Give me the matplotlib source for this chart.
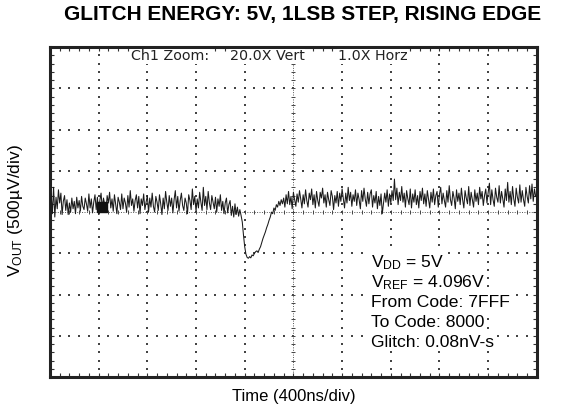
import numpy as np
import matplotlib.pyplot as plt

# scope trace, one sample every 10 ns, values in uV
sample_ns = 10
before_uv = [
    20, 220, -20, 300, -60, 180, 40, 270, 110, 230, -30, 130,
    200, 20, 150, -30, 110, 0, 170, 40, 130, -20, 180, 50,
    140, 10, 190, 70, 30, 170, 100, 10, 220, 50, 160, -10,
    120, 210, 30, 180, -30, 140, 230, 40, 170, 90, 0, 200,
    110, 240, 50, 160, 10, 210, 90, -20, 180, 120, 30, 220,
    40, 170, 110, 0, 200, 60, 260, 80, 160, 10, 140, 210,
    50, 190, -20, 160, 80, 220, 30, 120, 200, 0, 170, 60,
    230, 70, 0, 190, 120, 20, 210, 100, -30, 170, 40, 250,
    120, 20, 200, 70, 170, -10, 150, 260, 50, 190, 10, 140,
    230, 80, 20, 170, 110, -20, 210, 140, 30, 280, 90, 190,
    10, 160, 50, 240, 120, 20, 300, 80, 190, 30, 250, 110,
    30, 200, 120, 40, 180, 0, 160, 70, 210, 20, 130, -20,
    110, 170, -10, 90, 140, -40, 70, -60, 100, -30, 60, -50,
]
glitch_uv = [
    30, -40, -120, -280, -420, -510, -550, -560, -540, -555, -520, -530,
    -500, -480, -470, -490, -450, -420, -370, -320, -280, -240, -190, -150,
    -100, -60, 0, -20, 50, 20, 90, 60, 130, 80, 150, 100,
]
after_uv = [
    170, 60, 210, 100, 250, 90, 190, 40, 240, 150, 70, 220,
    120, 260, 160, 50, 210, 100, 270, 140, 60, 230, 150, 280,
    90, 210, 50, 250, 140, 70, 240, 170, 290, 110, 210, 60,
    240, 150, 80, 260, 190, 30, 200, 110, 250, 70, 230, 130,
    280, 160, 50, 230, 110, 300, 140, 240, 70, 210, 130, 270,
    80, 230, 150, 40, 260, 130, 290, 160, 70, 240, 100, 220,
    270, 60, 200, 110, 250, 40, 190, 80, 220, -20, 100, 230,
    120, 270, 70, 220, 110, 260, 140, 400, 150, 290, 90, 240,
    140, 310, 120, 230, 60, 260, 160, 90, 280, 50, 220, 120,
    270, 90, 200, 50, 250, 140, 290, 100, 220, 70, 260, 150,
    50, 240, 120, 280, 90, 200, 250, 60, 220, 300, 100, 230,
    140, 60, 260, 120, 320, 150, 80, 250, 170, 40, 270, 130,
    230, 90, 290, 150, 50, 260, 170, 100, 310, 80, 240, 150,
    60, 270, 130, 230, 90, 300, 160, 250, 80, 200, 280, 110,
    240, 350, 90, 270, 150, 70, 290, 180, 120, 320, 110, 250,
    160, 60, 280, 140, 360, 120, 250, 90, 310, 160, 70, 290,
    180, 110, 330, 120, 260, 150, 70, 300, 190, 110, 320, 160,
    340, 130, 280, 190,
]
trace_uv = before_uv + glitch_uv + after_uv
time_ns = np.arange(len(trace_uv)) * sample_ns

ns_per_div = 400
uv_per_div = 500
ground_marker_ns = 430
ground_marker_uv = 60

notes = ["V$_{\\rm DD}$ = 5V", "V$_{\\rm REF}$ = 4.096V", "From Code: 7FFF",
         "To Code: 8000", "Glitch: 0.08nV-s"]

plt.rcParams['font.family'] = ['Liberation Sans', 'DejaVu Sans']
plt.rcParams['mathtext.fontset'] = 'custom'
plt.rcParams['mathtext.rm'] = 'Liberation Sans'
plt.rcParams['mathtext.default'] = 'rm'

fig = plt.figure(figsize=(5.61, 4.13), dpi=100)
ax = fig.add_axes([0.089, 0.087, 0.868, 0.799])
xmax = 10 * ns_per_div
ymax = 4 * uv_per_div
ax.set_xlim(0, xmax)
ax.set_ylim(-ymax, ymax)

# dotted graticule
gx = np.arange(0, xmax + 1, ns_per_div / 5)
gy = np.arange(-ymax, ymax + 1, uv_per_div / 5)
dot = dict(s=1.5, marker='s', color='#444', linewidths=0, zorder=1)
for k in range(1, 10):
    if k != 5:
        ax.scatter(np.full(len(gy), k * ns_per_div), gy, **dot)
for k in range(-3, 4):
    if k != 0:
        ax.scatter(gx, np.full(len(gx), k * uv_per_div), **dot)

# centre axes
ax.axvline(xmax / 2, color='#555', lw=0.7, ls=(0, (1, 1.5)), zorder=1)
ax.axhline(0, color='#555', lw=0.7, ls=(0, (1, 1.5)), zorder=1)
ax.scatter(np.full(len(gy), xmax / 2), gy, marker='_', s=10, color='#444', linewidths=0.7, zorder=1)
ax.scatter(gx, np.zeros(len(gx)), marker='|', s=10, color='#444', linewidths=0.7, zorder=1)

ax.plot(time_ns, trace_uv, color='#1a1a1a', lw=0.75, zorder=3)
ax.plot(ground_marker_ns, ground_marker_uv, marker='s', ms=7.5, color='#111', zorder=4)

ax.set_xticks(np.arange(0, xmax + 1, ns_per_div))
ax.set_yticks(np.arange(-ymax, ymax + 1, uv_per_div))
ax.set_xticks(gx, minor=True)
ax.set_yticks(gy, minor=True)
ax.tick_params(which='both', direction='in', top=True, right=True,
               labelbottom=False, labelleft=False, length=3, width=0.8, color='#333')
for sp in ax.spines.values():
    sp.set_linewidth(2.2)
    sp.set_color('#222')

box = dict(facecolor='white', edgecolor='none', pad=0.5)
scope = dict(family='DejaVu Sans', fontsize=10.3, va='center', color='#222', bbox=box, zorder=5)
ax.text(665, 1887, "Ch1 Zoom:", **scope)
ax.text(1478, 1887, "20.0X Vert", **scope)
ax.text(2365, 1887, "1.0X Horz", **scope)

for i, s in enumerate(notes):
    ax.text(2636, -674 - i * 240, s, fontsize=12.6, va='baseline',
            bbox=dict(facecolor='white', edgecolor='none', pad=1), zorder=5)

fig.text(0.54, 0.964, "GLITCH ENERGY: 5V, 1LSB STEP, RISING EDGE",
         fontsize=15, fontweight='bold', ha='center', va='center')
fig.text(0.524, 0.039, "Time (400ns/div)", fontsize=12, ha='center', va='center')
fig.text(0.027, 0.49, "V$_{\\rm OUT}$ (500µV/div)", fontsize=12.5, rotation=90,
         ha='center', va='center')

fig.savefig("out.png", dpi=100)
